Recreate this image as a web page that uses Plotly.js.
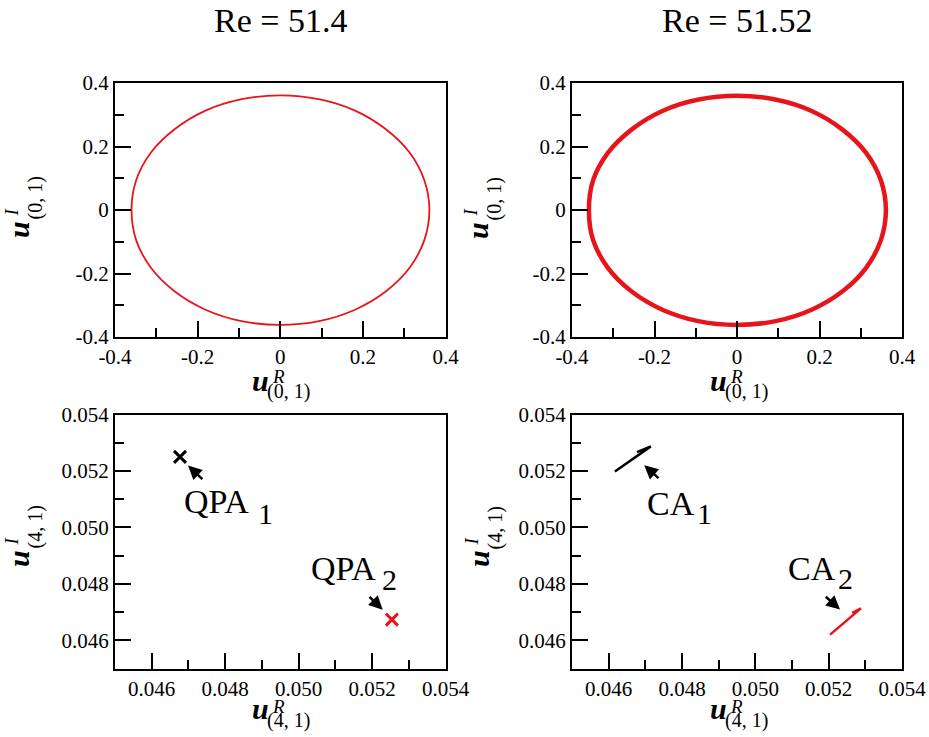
<!DOCTYPE html>
<html>
<head>
<meta charset="utf-8">
<script src="https://cdn.plot.ly/plotly-3.0.1.min.js"></script>
<style>html,body{margin:0;padding:0;background:#fff;}#chart{width:929px;height:737px;}</style>
</head>
<body>
<div id="chart"></div>
<script>
// ---------- data ----------
const panelTitles = ["Re = 51.4", "Re = 51.52"];

// Periodic orbit in (u^R_(0,1), u^I_(0,1)) — points read around the closed curve
const orbitX = [0.361, 0.349, 0.313, 0.255, 0.181, 0.093, 0.000, -0.093, -0.181, -0.255, -0.313, -0.349, -0.360, -0.349, -0.313, -0.256, -0.181, -0.094, 0.000, 0.094, 0.181, 0.256, 0.313, 0.349, 0.361];
const orbitY = [0.000, 0.093, 0.181, 0.255, 0.313, 0.349, 0.361, 0.349, 0.313, 0.255, 0.181, 0.093, 0.000, -0.094, -0.182, -0.256, -0.314, -0.350, -0.362, -0.350, -0.314, -0.256, -0.182, -0.094, 0.000];
const orbit2X = [0.361, 0.349, 0.313, 0.255, 0.181, 0.093, 0.000, -0.093, -0.181, -0.255, -0.313, -0.349, -0.359, -0.349, -0.313, -0.256, -0.181, -0.094, 0.000, 0.094, 0.181, 0.256, 0.313, 0.349, 0.361];
const orbit2Y = [0.000, 0.093, 0.180, 0.254, 0.312, 0.348, 0.360, 0.348, 0.312, 0.254, 0.180, 0.093, 0.000, -0.094, -0.182, -0.256, -0.314, -0.350, -0.362, -0.350, -0.314, -0.256, -0.182, -0.094, 0.000];

// Quasi-periodic attractors (Poincaré points), Re = 51.4
const qpa1X = [0.04677];
const qpa1Y = [0.05250];
const qpa2X = [0.05254];
const qpa2Y = [0.04673];

// Chaotic attractors, Re = 51.52
const ca1X = [0.04617, 0.04715, 0.04677];
const ca1Y = [0.05198, 0.05287, 0.05267];
const ca2X = [0.05204, 0.05288, 0.05264];
const ca2Y = [0.04620, 0.04713, 0.04697];

// Tick values / labels
const topTickVals = [-0.4, -0.2, 0, 0.2, 0.4];
const topTickText = ["-0.4", "-0.2", "0", "0.2", "0.4"];
const topMinorVals = [-0.3, -0.1, 0.1, 0.3];
const botTickVals = [0.046, 0.048, 0.050, 0.052, 0.054];
const botTickText = ["0.046", "0.048", "0.050", "0.052", "0.054"];
const botMinorVals = [0.047, 0.049, 0.051, 0.053];

// Labels with arrows: [label, subscript, textX, textY, subX, subY, arrowHeadX, arrowHeadY, arrowTailX, arrowTailY]
const leftLabels = [
  ["QPA", "1", 0.04776, 0.05092, 0.04911, 0.05049, 0.04699, 0.05219, 0.04742, 0.05166],
  ["QPA", "2", 0.05121, 0.04853, 0.05248, 0.04815, 0.05229, 0.04708, 0.05189, 0.04759]
];
const rightLabels = [
  ["CA", "1", 0.04770, 0.05085, 0.04861, 0.05049, 0.04697, 0.05220, 0.04740, 0.05170],
  ["CA", "2", 0.05154, 0.04854, 0.05247, 0.04819, 0.05231, 0.04709, 0.05188, 0.04759]
];

// ---------- layout helpers ----------
const W = 929, H = 737;
const SERIF = '"Liberation Serif"';
const px = v => v / W;
const py = v => 1 - v / H;

function axisStyle(extra) {
  return Object.assign({
    showline: true, linewidth: 2, linecolor: "#000", mirror: true,
    ticks: "inside", ticklen: 16, tickwidth: 2, tickcolor: "#000",
    showgrid: false, zeroline: false, fixedrange: true,
    tickfont: {family: SERIF, size: 21, color: "#000"},
    tickmode: "array"
  }, extra);
}
function topAxis(domain, anchor) {
  return axisStyle({domain: domain, anchor: anchor, range: [-0.4, 0.4],
    tickvals: topTickVals, ticktext: topTickText,
    minor: {ticks: "inside", ticklen: 9, tickwidth: 2, tickcolor: "#000", tickvals: topMinorVals}});
}
function botAxis(domain, anchor) {
  return axisStyle({domain: domain, anchor: anchor, range: [0.045, 0.054],
    tickvals: botTickVals, ticktext: botTickText,
    minor: {ticks: "inside", ticklen: 9, tickwidth: 2, tickcolor: "#000", tickvals: botMinorVals}});
}

const traces = [
  {x: orbitX, y: orbitY, xaxis: "x", yaxis: "y", mode: "lines",
   line: {color: "#e8141b", width: 1.8, shape: "spline", smoothing: 1}},
  {x: orbit2X, y: orbit2Y, xaxis: "x2", yaxis: "y2", mode: "lines",
   line: {color: "#e8141b", width: 4.5, shape: "spline", smoothing: 1}},
  {x: qpa1X, y: qpa1Y, xaxis: "x3", yaxis: "y3", mode: "markers",
   marker: {symbol: "x-thin", size: 12, line: {color: "#000", width: 3}}},
  {x: qpa2X, y: qpa2Y, xaxis: "x3", yaxis: "y3", mode: "markers",
   marker: {symbol: "x-thin", size: 12, line: {color: "#e8141b", width: 3}}},
  {x: ca1X, y: ca1Y, xaxis: "x4", yaxis: "y4", mode: "lines",
   line: {color: "#000", width: 2.5}},
  {x: ca2X, y: ca2Y, xaxis: "x4", yaxis: "y4", mode: "lines",
   line: {color: "#e8141b", width: 2.5}}
];

const annotations = [];
function addText(text, x, y, size, opts) {
  annotations.push(Object.assign({text: text, x: x, y: y, xref: "paper", yref: "paper",
    xanchor: "center", yanchor: "middle", showarrow: false,
    font: {family: SERIF, size: size, color: "#000"}}, opts || {}));
}
// Panel titles
addText(panelTitles[0], px(280), py(21), 34);
addText(panelTitles[1], px(737), py(21), 34);

// Axis labels (x): u, superscript R, subscript (m, n)
function xLabel(dx, uy, ry, sy, sub) {
  addText("<b><i>u</i></b>", px(260 + dx), py(uy), 30);
  addText("<i>R</i>", px(278 + dx), py(ry), 19);
  addText(sub, px(288.5 + dx), py(sy), 20);
}
function yLabel(dx, dy, sub) {
  addText("<b><i>u</i></b>", px(18 + dx), py(230 + dy), 30, {textangle: -90});
  addText("<i>I</i>", px(11 + dx), py(212.5 + dy), 19, {textangle: -90});
  addText(sub, px(35 + dx), py(198.5 + dy), 20, {textangle: -90});
}
xLabel(0, 380, 376, 391, "(0, 1)");
xLabel(458, 380, 376, 391, "(0, 1)");
xLabel(0, 708, 706, 720, "(4, 1)");
xLabel(458, 708, 706, 720, "(4, 1)");
yLabel(0, 0, "(0, 1)");
yLabel(459, 0, "(0, 1)");
yLabel(0, 329, "(4, 1)");
yLabel(460, 329, "(4, 1)");

// Attractor labels + arrows in data coordinates
function addMarks(list, xr, yr) {
  list.forEach(l => {
    annotations.push({text: l[0], x: l[2], y: l[3], xref: xr, yref: yr, showarrow: false,
      xanchor: "center", yanchor: "middle", font: {family: SERIF, size: 34, color: "#000"}});
    annotations.push({text: l[1], x: l[4], y: l[5], xref: xr, yref: yr, showarrow: false,
      xanchor: "center", yanchor: "middle", font: {family: SERIF, size: 30, color: "#000"}});
    annotations.push({text: "", x: l[6], y: l[7], xref: xr, yref: yr,
      ax: l[8], ay: l[9], axref: xr, ayref: yr, showarrow: true,
      arrowhead: 2, arrowsize: 1.1, arrowwidth: 2.5, arrowcolor: "#000", standoff: 0, startstandoff: 0});
  });
}
addMarks(leftLabels, "x3", "y3");
addMarks(rightLabels, "x4", "y4");

const rowTop = [py(337), py(83)];
const rowBot = [py(668.5), py(414.5)];
const colL = [px(115), px(445.5)];
const colR = [px(572), px(902)];

const layout = {
  width: W, height: H, margin: {l: 0, r: 0, t: 0, b: 0},
  paper_bgcolor: "#fff", plot_bgcolor: "#fff", showlegend: false,
  font: {family: SERIF, color: "#000"},
  xaxis: topAxis(colL, "y"), yaxis: topAxis(rowTop, "x"),
  xaxis2: topAxis(colR, "y2"), yaxis2: topAxis(rowTop, "x2"),
  xaxis3: botAxis(colL, "y3"), yaxis3: botAxis(rowBot, "x3"),
  xaxis4: botAxis(colR, "y4"), yaxis4: botAxis(rowBot, "x4"),
  annotations: annotations
};

Plotly.newPlot("chart", traces, layout, {displayModeBar: false, staticPlot: true});
</script>
</body>
</html>
